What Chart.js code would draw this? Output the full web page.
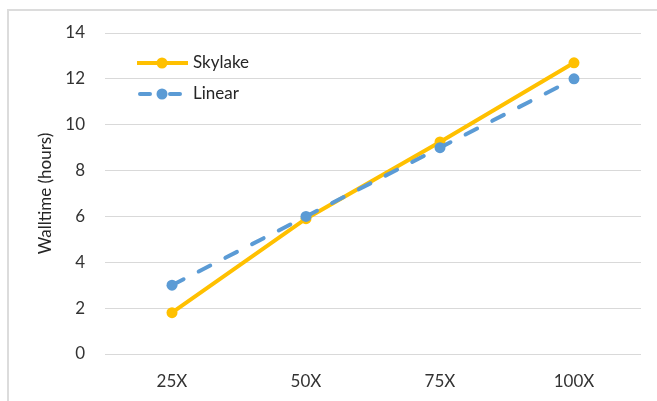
<!DOCTYPE html>
<html>
<head>
<meta charset="utf-8">
<script src="https://cdn.jsdelivr.net/npm/chart.js@4/dist/chart.umd.min.js"></script>
<style>
  html, body { margin: 0; padding: 0; background: #ffffff; }
  #wrap { position: relative; width: 657px; height: 401px; overflow: hidden; }
  #frame { position: absolute; left: 7px; top: 9px; width: 700px; height: 450px;
           border-left: 2px solid #dcdcdc; border-top: 2px solid #dcdcdc; }
  canvas { position: absolute; left: 0; top: 0; }
</style>
</head>
<body>
<div id="wrap">
  <div id="frame"></div>
  <canvas id="chart" width="657" height="401"></canvas>
</div>
<script>
// Scale factors and measured walltimes
const categories = ['25X', '50X', '75X', '100X'];
const skylakeHours = [1.8, 5.9, 9.25, 12.7];
const linearHours = [3, 6, 9, 12];
const yTicks = [0, 2, 4, 6, 8, 10, 12, 14];

const ORANGE = '#FFC000';
const BLUE = '#5B9BD5';
const FONT = 'Lato, "Open Sans", sans-serif';

// Legend drawn inside the plot area, top-left
const insideLegend = {
  id: 'insideLegend',
  afterDatasetsDraw(chart) {
    const ctx = chart.ctx;
    const rows = [
      { ds: chart.data.datasets[0], y: 63 },
      { ds: chart.data.datasets[1], y: 94 }
    ];
    ctx.save();
    rows.forEach(r => {
      const ds = r.ds;
      const dashed = ds.borderDash && ds.borderDash.length;
      ctx.strokeStyle = ds.borderColor;
      ctx.lineWidth = ds.borderWidth;
      ctx.lineCap = ds.borderCapStyle || 'butt';
      ctx.beginPath();
      if (dashed) {
        ctx.moveTo(140, r.y); ctx.lineTo(150, r.y);
        ctx.moveTo(170, r.y); ctx.lineTo(180, r.y);
      } else {
        ctx.moveTo(137, r.y); ctx.lineTo(188, r.y);
      }
      ctx.stroke();
      ctx.fillStyle = ds.pointBackgroundColor;
      ctx.beginPath();
      ctx.arc(162, r.y, ds.pointRadius, 0, Math.PI * 2);
      ctx.fill();
      ctx.fillStyle = '#262626';
      ctx.font = '17px ' + FONT;
      ctx.textAlign = 'left';
      ctx.textBaseline = 'middle';
      ctx.fillText(ds.label, 193, r.y);
    });
    ctx.restore();
  }
};

new Chart(document.getElementById('chart'), {
  type: 'line',
  data: {
    labels: categories,
    datasets: [
      {
        label: 'Skylake',
        data: skylakeHours,
        borderColor: ORANGE,
        backgroundColor: ORANGE,
        pointBackgroundColor: ORANGE,
        pointBorderColor: ORANGE,
        borderWidth: 4,
        pointRadius: 5.5,
        pointBorderWidth: 0,
        tension: 0,
        order: 2
      },
      {
        label: 'Linear',
        data: linearHours,
        borderColor: BLUE,
        backgroundColor: BLUE,
        pointBackgroundColor: BLUE,
        pointBorderColor: BLUE,
        borderWidth: 4,
        borderDash: [13, 17],
        borderCapStyle: 'round',
        pointRadius: 5.5,
        pointBorderWidth: 0,
        tension: 0,
        order: 1
      }
    ]
  },
  options: {
    responsive: false,
    animation: false,
    devicePixelRatio: 1,
    layout: { padding: { left: 0, right: 16, top: 33, bottom: 0 } },
    plugins: {
      legend: { display: false },
      tooltip: { enabled: false },
      title: { display: false }
    },
    scales: {
      x: {
        offset: true,
        grid: { display: false, drawTicks: false },
        border: { display: false },
        ticks: { color: '#333333', font: { family: FONT, size: 17 }, padding: 17 },
        afterFit(scale) { scale.height = 47; }
      },
      y: {
        min: 0,
        max: 14,
        afterBuildTicks(scale) { scale.ticks = yTicks.map(v => ({ value: v })); },
        grid: { color: '#d9d9d9', lineWidth: 1, drawTicks: false },
        border: { display: false },
        ticks: { color: '#333333', font: { family: FONT, size: 17 }, padding: 20 },
        title: {
          display: true,
          text: 'Walltime (hours)',
          color: '#262626',
          font: { family: FONT, size: 17 },
          padding: { top: 35, bottom: 0 }
        },
        afterFit(scale) { scale.width = 105; }
      }
    }
  },
  plugins: [insideLegend]
});
</script>
</body>
</html>
